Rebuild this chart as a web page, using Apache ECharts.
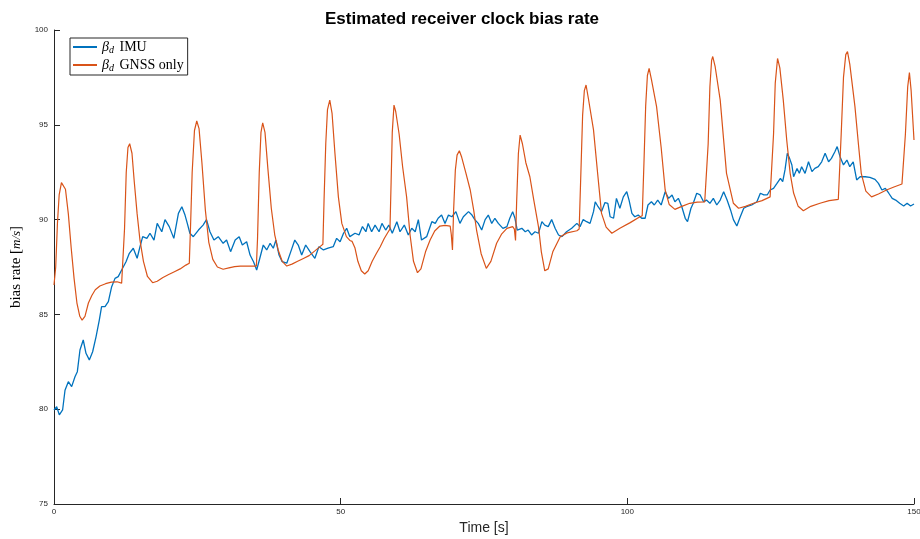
<!DOCTYPE html>
<html>
<head>
<meta charset="utf-8">
<script src="https://cdn.jsdelivr.net/npm/echarts@6/dist/echarts.min.js"></script>
<style>html,body{margin:0;padding:0;background:#fff;}#c{width:920px;height:539px;}</style>
</head>
<body>
<div id="c"></div>
<script>
const chartTitle = 'Estimated receiver clock bias rate';
const xTicks = [0, 50, 100, 150];
const yTicks = [75, 80, 85, 90, 95, 100];

const imuTime = [0,0.47,0.93,1.5,1.92,2.5,3.08,3.66,4.07,4.53,5.1,5.58,6.16,6.74,7.33,7.9,8.3,8.9,9.48,10.06,10.64,11.2,11.8,12.56,13.14,13.83,14.5,15,15.47,16.2,16.74,17.44,18.0,18.8,19.36,20.1,20.9,21.7,22.3,22.85,23.25,23.7,24.3,25.2,26.0,26.6,27.2,27.9,28.65,29.5,30.1,30.8,31.6,32.3,32.85,33.6,34.2,34.8,35.35,35.9,36.5,37.1,37.7,38.25,38.7,39.25,39.8,40.6,41.3,42.0,42.6,43.2,43.9,44.65,45.5,46.2,47,47.8,48.7,49.3,49.9,50.5,51.05,51.6,52.5,53.2,53.8,54.4,54.8,55.4,56.0,56.7,57.2,57.85,58.4,59.0,59.8,60.35,61.1,61.8,62.4,63.0,63.55,64.1,65.0,65.9,66.5,67.0,67.6,68.2,68.8,69.4,70.1,70.8,71.4,72.3,72.9,73.4,74.0,74.6,75.2,75.75,76.35,76.9,77.5,78.3,79.0,79.5,80.0,80.4,80.8,81.6,82.2,82.7,83.3,83.9,84.5,85.1,85.6,86.2,86.8,87.4,88.0,88.6,89.4,90.3,91.2,91.75,92.3,92.9,93.5,94.1,94.4,94.9,95.5,96.1,96.6,97.0,97.6,98.1,98.7,99.3,99.9,100.3,100.8,101.3,101.9,102.5,103.1,103.6,104.2,104.7,105.3,105.9,106.6,107.2,107.8,108.3,108.9,109.5,110.1,110.5,111.1,111.5,112.1,112.7,113.3,113.8,114.4,115.0,115.6,116.2,116.8,117.4,118.0,118.5,119.1,119.7,120.3,120.8,121.7,122.6,123.2,123.8,124.4,124.9,125.5,126.1,126.7,127.1,127.5,127.9,128.3,128.7,129.0,129.6,130.0,130.4,131.0,131.6,132.2,132.7,133.3,133.9,134.5,135.1,135.6,136.2,136.6,137.1,137.7,138.3,138.8,139.4,140.0,140.6,141.5,142.3,143.2,143.8,144.4,145.0,145.6,146.2,146.8,147.5,148.2,148.8,149.4,150];
const imuValue = [79.96,80.13,79.7,79.96,81.0,81.45,81.19,81.71,81.98,83.12,83.65,82.95,82.6,83.03,83.82,84.7,85.41,85.41,85.67,86.46,86.9,86.99,87.34,87.78,88.22,88.49,87.96,88.57,89.1,89.01,89.28,88.92,89.8,89.36,90.0,89.63,89.01,90.33,90.68,90.24,89.8,89.28,89.1,89.45,89.71,90.0,89.36,88.92,89.1,88.75,88.92,88.31,88.92,89.1,88.66,88.83,88.13,87.78,87.34,87.96,88.66,88.4,88.75,88.49,88.92,88.13,87.78,87.7,88.31,88.92,88.66,88.13,88.66,88.31,87.96,88.57,88.4,88.49,88.57,89.01,88.83,89.28,89.54,89.1,89.28,89.19,89.63,89.36,89.8,89.36,89.71,89.36,89.8,89.45,89.71,89.28,89.89,89.36,89.71,89.19,89.54,89.36,90.0,88.92,89.1,89.89,89.8,90.07,90.24,89.8,90.24,90.15,90.42,89.8,90.15,90.42,90.24,90.0,89.8,89.45,90.0,90.24,89.8,90.07,89.8,89.54,89.63,90.07,90.42,90.07,89.45,89.54,89.36,89.45,89.19,89.36,89.28,89.89,89.71,89.63,90.0,89.54,89.19,89.1,89.36,89.54,89.8,89.63,90.0,89.89,89.8,90.42,90.94,90.68,90.42,90.9,90.86,90.15,90.07,91.12,90.6,91.2,91.47,91.03,90.33,90.15,90.24,90.07,90.07,90.77,90.94,90.77,91.03,90.77,91.47,91.12,91.3,90.94,91.12,90.68,90.07,89.89,90.6,90.86,91.39,91.3,90.94,91.03,90.86,91.12,90.77,91.03,91.47,91.03,90.51,90.0,89.66,90.15,90.6,90.68,90.77,90.94,91.39,91.3,91.3,91.56,91.65,91.91,92.18,92.0,92.62,93.5,93.23,92.88,92.26,92.7,92.44,92.79,92.44,93.05,92.53,92.7,92.79,93.05,93.5,93.05,93.23,93.58,93.85,93.32,92.88,93.14,92.79,93.05,92.09,92.26,92.26,92.23,92.12,91.91,91.56,91.65,91.39,91.12,91.03,90.86,90.72,90.86,90.72,90.82];

const gnssTime = [0,0.3,0.6,0.9,1.3,1.6,2.0,2.5,3.0,3.5,4.0,4.5,4.9,5.4,6.0,6.6,7.2,8.0,9.0,10.0,11.0,11.8,12.1,12.3,12.6,12.9,13.2,13.6,14.0,14.5,15.0,15.6,16.3,17.2,18.0,19.0,20.0,21.0,22.0,23.0,23.6,23.8,24.1,24.5,24.9,25.3,25.8,26.4,27.0,27.7,28.5,29.5,30.5,31.5,32.5,33.5,34.5,35.3,35.5,35.8,36.1,36.4,36.8,37.3,37.9,38.5,39.1,39.8,40.6,41.5,42.5,43.5,44.5,45.5,46.5,46.9,47.1,47.4,47.7,48.1,48.5,49.0,49.6,50.2,51.0,51.6,52.0,52.5,53.0,53.6,54.2,54.8,55.5,56.2,56.9,57.6,58.3,58.6,58.8,59.0,59.3,59.6,60.2,60.8,61.5,62.1,62.7,63.4,64.0,64.8,65.6,66.4,67.3,68.2,69.1,69.3,69.5,69.7,70.0,70.3,70.7,71.1,71.8,72.6,73.2,73.7,74.5,75.4,76.2,77.2,78.1,79.0,80.0,80.3,80.5,80.7,81.0,81.3,81.7,82.3,83.0,83.7,84.5,85.0,85.6,86.2,87.0,88.3,89.5,91.2,91.6,91.9,92.2,92.5,92.8,93.2,94.1,94.8,95.5,96.3,97.3,98.7,100.5,102.2,102.6,102.9,103.2,103.5,103.8,104.2,105.1,105.9,106.6,107.3,108.3,109.5,110.9,112.2,113.5,113.8,114.1,114.4,114.7,114.9,115.3,116.2,117.3,118.5,119.4,120.6,122.0,123.5,124.9,125.2,125.5,125.8,126.2,126.6,127.2,127.8,128.4,129.0,129.8,130.7,132.0,133.6,135.2,136.8,137.0,137.3,137.7,138.1,138.4,138.8,139.7,140.3,140.8,141.6,142.6,143.8,145.2,146.5,147.9,148.2,148.5,148.9,149.2,149.5,150.0];
const gnssValue = [86.55,87.5,89.8,91.3,91.95,92.0,91.6,90.3,88.5,86.9,85.6,84.9,84.7,84.9,85.6,86.0,86.3,86.5,86.62,86.7,86.72,86.65,86.6,89.5,92.5,93.8,94.0,93.5,92.0,90.3,88.9,87.8,87.0,86.67,86.75,86.95,87.1,87.25,87.4,87.6,87.7,89.5,92.5,94.7,95.2,94.8,93.0,90.5,88.8,87.9,87.5,87.38,87.45,87.52,87.55,87.55,87.55,87.55,89.0,92.5,94.6,95.1,94.6,92.7,90.6,89.2,88.4,87.8,87.55,87.65,87.8,87.95,88.1,88.35,88.6,88.7,91.0,94.0,95.8,96.3,95.6,93.5,91.2,89.8,89.1,88.9,88.85,88.5,87.8,87.3,87.13,87.3,87.8,88.2,88.57,89.0,89.36,89.5,92.0,94.6,96.04,95.7,94.5,92.8,91.2,89.2,87.8,87.2,87.4,88.3,88.92,89.4,89.66,89.7,89.66,89.2,88.4,90.5,92.6,93.4,93.63,93.3,92.5,91.56,90.5,89.45,88.2,87.43,87.8,88.75,89.25,89.54,89.63,89.5,88.9,91.0,93.5,94.46,94.0,93.0,92.26,91.0,89.63,88.3,87.3,87.4,88.3,89.1,89.3,89.41,89.5,92.5,95.5,96.8,97.1,96.4,94.73,92.5,90.33,89.6,89.28,89.54,89.84,90.15,90.2,93.0,96.0,97.6,97.98,97.4,95.96,93.8,91.56,90.8,90.54,90.7,90.86,90.92,90.94,91.0,94.0,97.0,98.4,98.6,98.1,96.3,92.44,90.86,90.6,90.7,90.86,91.0,91.2,91.3,94.5,97.2,98.5,98.0,96.3,94.2,92.44,91.4,90.7,90.47,90.7,90.86,91.0,91.07,91.1,94.5,97.5,98.7,98.86,98.2,95.96,94.0,92.44,91.5,91.2,91.35,91.56,91.72,91.88,91.95,94.5,97.0,97.75,96.8,94.2];

const seriesNames = ['imu', 'gnss'];
const legendLabels = {imu: '{g|β}{sub|d} IMU', gnss: '{g|β}{sub|d} GNSS only'};

function zip(a, b) { return a.map((v, i) => [v, b[i]]); }

const SANS = "'Liberation Sans', Arial, Helvetica, sans-serif";
const SERIF = "'Liberation Serif', 'DejaVu Serif', serif";

const chart = echarts.init(document.getElementById('c'), null, {renderer: 'canvas'});
const axisColor = '#262626';
chart.setOption({
  animation: false,
  backgroundColor: '#ffffff',
  title: {
    text: chartTitle,
    left: 457, top: 6, textAlign: 'center',
    textStyle: {fontFamily: SANS, fontWeight: 'bold', fontSize: 17, color: '#000'}
  },
  grid: {left: 54, right: 6, top: 30, bottom: 35, containLabel: false, outerBoundsMode: 'none'},
  legend: {
    left: 70, top: 38,
    orient: 'vertical',
    backgroundColor: '#fff',
    borderColor: axisColor, borderWidth: 1, borderRadius: 0,
    padding: [2, 4, 2, 3],
    itemGap: 3,
    itemWidth: 24, itemHeight: 2,
    icon: 'rect',
    data: seriesNames,
    formatter: n => legendLabels[n],
    textStyle: {
      fontFamily: SERIF, fontSize: 14, color: '#000',
      rich: {
        g: {fontFamily: SERIF, fontStyle: 'italic', fontSize: 14, color: '#000'},
        sub: {fontFamily: SERIF, fontStyle: 'italic', fontSize: 10, color: '#000', verticalAlign: 'bottom', padding: [6, 2, 0, 0]}
      }
    }
  },
  xAxis: {
    type: 'value', min: 0, max: 150, interval: 50,
    name: 'Time [s]', nameLocation: 'middle', nameGap: 14,
    nameTextStyle: {fontFamily: SANS, fontSize: 14, color: axisColor},
    axisLine: {show: true, lineStyle: {color: axisColor, width: 1}},
    axisTick: {show: true, inside: true, length: 6, lineStyle: {color: axisColor}},
    axisLabel: {fontSize: 8, color: axisColor, margin: 4, fontFamily: SANS,
      formatter: v => xTicks.includes(v) ? String(v) : ''},
    splitLine: {show: false}
  },
  yAxis: {
    type: 'value', min: 75, max: 100, interval: 5,
    name: 'bias rate [{i|m/s}]', nameLocation: 'middle', nameGap: 20, nameRotate: 90,
    nameTextStyle: {fontFamily: SERIF, fontSize: 15, color: '#000',
      rich: {i: {fontFamily: SERIF, fontStyle: 'italic', fontSize: 13, color: '#000'}}},
    axisLine: {show: true, lineStyle: {color: axisColor, width: 1}},
    axisTick: {show: true, inside: true, length: 6, lineStyle: {color: axisColor}},
    axisLabel: {fontSize: 8, color: axisColor, margin: 6, fontFamily: SANS,
      formatter: v => yTicks.includes(v) ? String(v) : ''},
    splitLine: {show: false}
  },
  series: [
    {name: 'imu', type: 'line', data: zip(imuTime, imuValue), showSymbol: false, symbol: 'none',
      lineStyle: {color: '#0072BD', width: 1.3}, itemStyle: {color: '#0072BD'}},
    {name: 'gnss', type: 'line', data: zip(gnssTime, gnssValue), showSymbol: false, symbol: 'none',
      lineStyle: {color: '#D95319', width: 1.2}, itemStyle: {color: '#D95319'}}
  ]
});
</script>
</body>
</html>
